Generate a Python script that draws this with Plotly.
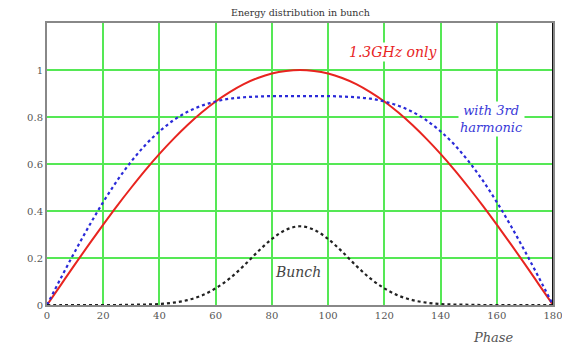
import plotly.graph_objects as go

phase = [0, 5, 10, 15, 20, 25, 30, 35, 40, 45, 50, 55, 60, 65, 70, 75, 80, 85, 90,
         95, 100, 105, 110, 115, 120, 125, 130, 135, 140, 145, 150, 155, 160, 165, 170, 175, 180]

only_13ghz = [0.000, 0.087, 0.174, 0.259, 0.342, 0.423, 0.500, 0.574, 0.643, 0.707, 0.766, 0.819,
              0.866, 0.906, 0.940, 0.966, 0.985, 0.996, 1.000,
              0.996, 0.985, 0.966, 0.940, 0.906, 0.866, 0.819, 0.766, 0.707, 0.643, 0.574,
              0.500, 0.423, 0.342, 0.259, 0.174, 0.087, 0.000]

with_3rd = [0.000, 0.116, 0.229, 0.337, 0.438, 0.530, 0.611, 0.681, 0.739, 0.786, 0.822, 0.848,
            0.866, 0.878, 0.884, 0.887, 0.889, 0.889, 0.889,
            0.889, 0.889, 0.887, 0.884, 0.878, 0.866, 0.848, 0.822, 0.786, 0.739, 0.681,
            0.611, 0.530, 0.438, 0.337, 0.229, 0.116, 0.000]

bunch = [0.000, 0.000, 0.000, 0.000, 0.000, 0.000, 0.001, 0.002, 0.004, 0.010, 0.021, 0.040,
         0.071, 0.113, 0.167, 0.227, 0.281, 0.320, 0.335,
         0.320, 0.281, 0.227, 0.167, 0.113, 0.071, 0.040, 0.021, 0.010, 0.004, 0.002,
         0.001, 0.000, 0.000, 0.000, 0.000, 0.000, 0.000]

x_ticks = [0, 20, 40, 60, 80, 100, 120, 140, 160, 180]
y_ticks = [0, 0.2, 0.4, 0.6, 0.8, 1.0]
y_tick_labels = ["0", "0.2", "0.4", "0.6", "0.8", "1"]

SERIF = "DejaVu Serif, Liberation Serif, serif"

fig = go.Figure()
fig.add_trace(go.Scatter(x=phase, y=only_13ghz, mode="lines", line=dict(color="#e8241f", width=2, shape="spline"),
                         name="1.3GHz only"))
fig.add_trace(go.Scatter(x=phase, y=with_3rd, mode="lines", line=dict(color="#2a2ad8", width=2.2, dash="dot", shape="spline"),
                         name="with 3rd harmonic"))
fig.add_trace(go.Scatter(x=phase, y=bunch, mode="lines", line=dict(color="#222222", width=2.2, dash="dot", shape="spline"),
                         name="Bunch"))

fig.add_annotation(x=0.5, xref="paper", y=1.039, yref="paper", yanchor="middle", text="Energy distribution in bunch",
                   showarrow=False, font=dict(family=SERIF, size=9.5, color="#333333"))
fig.add_annotation(x=123, y=1.077, text="<i>1.3GHz only</i>", showarrow=False, bgcolor="white",
                   font=dict(family=SERIF, size=14, color="#e8241f"))
fig.add_annotation(x=158, y=0.79, text="<i>with 3rd<br>harmonic</i>", showarrow=False, bgcolor="white",
                   font=dict(family=SERIF, size=13, color="#3a3ad8"))
fig.add_annotation(x=89.3, y=0.14, text="<i>Bunch</i>", showarrow=False, bgcolor="white",
                   font=dict(family=SERIF, size=14, color="#444444"))
fig.add_annotation(x=0.883, xref="paper", xanchor="center", y=-0.117, yref="paper", yanchor="middle",
                   text="<i>Phase</i>", showarrow=False, font=dict(family=SERIF, size=13, color="#555555"))

fig.add_shape(type="line", xref="x", yref="paper", x0=180, x1=180, y0=0, y1=1,
              line=dict(color="#111111", width=2))

fig.update_layout(
    width=562, height=344,
    margin=dict(l=47, r=9, t=23, b=39, autoexpand=False),
    paper_bgcolor="white", plot_bgcolor="white",
    showlegend=False,
    font=dict(family=SERIF, size=10, color="#555555"),
    xaxis=dict(range=[0, 180], tickvals=x_ticks, showgrid=True, gridcolor="#55e855", gridwidth=1.5,
               zeroline=False, showline=True, linecolor="#888888", linewidth=2, mirror=True, automargin=False,
               ticks="", ticklabeloverflow="allow", tickfont=dict(family=SERIF, size=10, color="#555555")),
    yaxis=dict(range=[0, 1.2], tickvals=y_ticks, ticktext=y_tick_labels, showgrid=True, gridcolor="#55e855",
               gridwidth=1.5, zeroline=False, showline=True, linecolor="#888888", linewidth=2, mirror=True,
               automargin=False, ticks="", tickfont=dict(family=SERIF, size=10, color="#555555")),
)

fig.write_html("out.html", config={"displayModeBar": False},
               post_script="document.body.style.margin='0';document.body.style.overflow='hidden';")
